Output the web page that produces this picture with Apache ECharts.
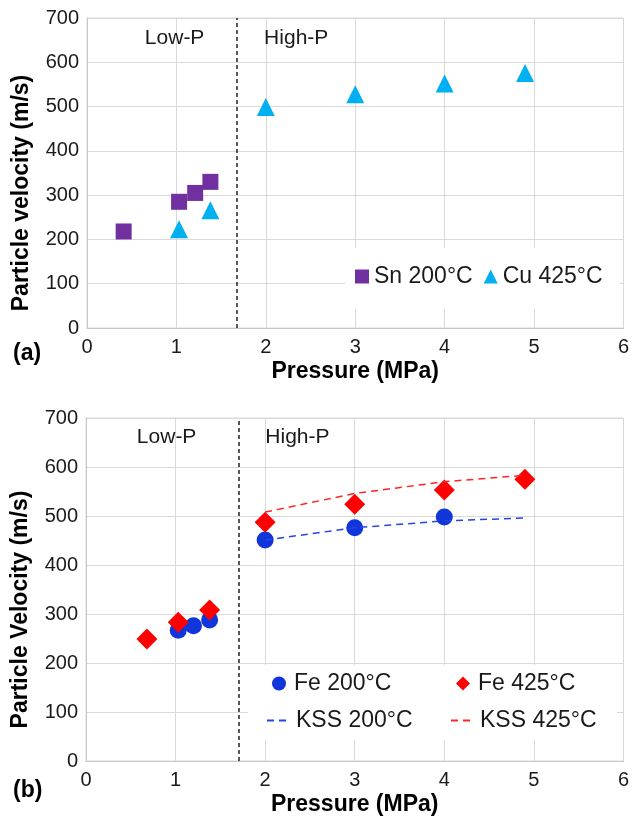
<!DOCTYPE html>
<html style="height: 100%">

<head>
	<meta charset="utf-8">
</head>

<body style="height: 100%; margin: 0; background: #fff">
	<div id="container" style="width: 632px; height: 819px;"></div>

	<script type="text/javascript" src="https://cdn.jsdelivr.net/npm/echarts@6/dist/echarts.min.js"></script>
	<script type="text/javascript">
		// panel (a)
		let snX = [0.41, 1.03, 1.21, 1.38];
		let snY = [218, 285, 305, 330];
		let cuX = [1.03, 1.38, 2.0, 3.0, 4.0, 4.9];
		let cuY = [223, 266, 499, 528, 552, 576];

		// panel (b)
		let fe200X = [1.03, 1.2, 1.38, 2, 3, 4];
		let fe200Y = [267, 276, 288, 451, 476, 498];
		let fe425X = [0.68, 1.03, 1.38, 2, 3, 4, 4.9];
		let fe425Y = [249, 283, 308, 487, 524, 553, 575];
		let kssX = [2, 3, 4, 4.9];
		let kss200Y = [451, 476, 490, 496];
		let kss425Y = [508, 546, 570, 583];

		let boundaryA = 1.67;
		let boundaryB = 1.70;

		function pairs(xs, ys) {
			return xs.map(function (x, i) { return [x, ys[i]]; });
		}

		let font = '"Liberation Sans", Arial, sans-serif';
		let gridColor = '#d9d9d9';
		let textColor = '#1a1a1a';

		function xAxisOf(gridIndex) {
			return {
				type: 'value',
				gridIndex: gridIndex,
				min: 0,
				max: 6,
				interval: 1,
				name: 'Pressure (MPa)',
				nameLocation: 'middle',
				nameGap: 32,
				nameTextStyle: { fontFamily: font, fontSize: 23, fontWeight: 'bold', color: '#000' },
				axisLine: { lineStyle: { color: '#c8c8c8' } },
				axisTick: { show: false },
				axisLabel: { fontFamily: font, fontSize: 20, color: textColor, margin: 9 },
				splitLine: { lineStyle: { color: gridColor } }
			};
		}

		function yAxisOf(gridIndex, name) {
			return {
				type: 'value',
				gridIndex: gridIndex,
				min: 0,
				max: 700,
				interval: 100,
				name: name,
				nameLocation: 'middle',
				nameGap: 54,
				nameTextStyle: { fontFamily: font, fontSize: 23, fontWeight: 'bold', color: '#000', padding: [0, 40, 0, 0] },
				axisLine: { show: true, lineStyle: { color: '#c8c8c8' } },
				axisTick: { show: false },
				axisLabel: { fontFamily: font, fontSize: 20, color: textColor, margin: 8 },
				splitLine: { lineStyle: { color: gridColor } }
			};
		}

		function regionMarks(lowX, highX, y) {
			return {
				symbol: 'circle',
				symbolSize: 1,
				itemStyle: { color: 'rgba(0,0,0,0)' },
				label: { show: true, position: 'inside', fontFamily: font, fontSize: 21, color: textColor },
				data: [
					{ coord: [lowX, y], label: { formatter: 'Low-P' } },
					{ coord: [highX, y], label: { formatter: 'High-P' } }
				]
			};
		}

		function boundary(x) {
			return {
				silent: true,
				symbol: 'none',
				label: { show: false },
				lineStyle: { color: '#222', type: [4, 3], width: 1.5 },
				data: [{ xAxis: x }]
			};
		}

		let legendText = { fontFamily: font, fontSize: 23, color: textColor, padding: [0, 0, 0, 3] };

		function legendItem(item, left, top, width) {
			return {
				data: [item],
				left: left,
				top: top,
				padding: 0,
				itemWidth: width,
				itemHeight: 14,
				textStyle: legendText
			};
		}

		let dom = document.getElementById("container");
		let myChart = echarts.init(dom, null, { renderer: 'canvas' });

		let option = {
			backgroundColor: '#fff',
			animation: false,
			grid: [
				{ left: 87, right: 6, top: 18, height: 310, show: true, borderColor: gridColor, borderWidth: 1 },
				{ left: 86, right: 8, top: 418, height: 343, show: true, borderColor: gridColor, borderWidth: 1 }
			],
			xAxis: [xAxisOf(0), xAxisOf(1)],
			yAxis: [yAxisOf(0, 'Particle velocity (m/s)'), yAxisOf(1, 'Particle Velocity (m/s)')],
			graphic: [
				{ type: 'rect', z: 3, shape: { x: 345, y: 248, width: 275, height: 61 }, style: { fill: '#fff' } },
				{ type: 'rect', z: 3, shape: { x: 248, y: 665, width: 369, height: 75 }, style: { fill: '#fff' } },
				{ type: 'text', left: 13, top: 342, style: { text: '(a)', font: 'bold 23px ' + font, fill: '#000' } },
				{ type: 'text', left: 13, top: 779, style: { text: '(b)', font: 'bold 23px ' + font, fill: '#000' } }
			],
			legend: [
				{
					data: ['Sn 200°C', 'Cu 425°C'],
					left: 355,
					top: 265,
					padding: 0,
					itemWidth: 14,
					itemHeight: 14,
					itemGap: 11,
					textStyle: { fontFamily: font, fontSize: 23, color: textColor }
				},
				legendItem('Fe 200°C', 272, 672, 14),
				legendItem('Fe 425°C', 456, 672, 14),
				legendItem({ name: 'KSS 200°C', itemStyle: { opacity: 0 } }, 266, 709, 21),
				legendItem({ name: 'KSS 425°C', itemStyle: { opacity: 0 } }, 450, 709, 21)
			],
			series: [
				{
					name: 'Sn 200°C',
					type: 'scatter',
					xAxisIndex: 0,
					yAxisIndex: 0,
					symbol: 'rect',
					symbolSize: 16,
					itemStyle: { color: '#7030A0', opacity: 1 },
					data: pairs(snX, snY),
					markLine: boundary(boundaryA),
					markPoint: regionMarks(0.98, 2.34, 655)
				},
				{
					name: 'Cu 425°C',
					type: 'scatter',
					xAxisIndex: 0,
					yAxisIndex: 0,
					symbol: 'triangle',
					symbolSize: 18,
					itemStyle: { color: '#00B0F0', opacity: 1 },
					data: pairs(cuX, cuY)
				},
				{
					name: 'KSS 200°C',
					type: 'line',
					xAxisIndex: 1,
					yAxisIndex: 1,
					symbol: 'none',
					lineStyle: { color: '#2646E0', width: 1.5, type: [7, 5] },
					itemStyle: { color: '#2646E0' },
					data: pairs(kssX, kss200Y),
					markLine: boundary(boundaryB),
					markPoint: regionMarks(0.9, 2.36, 661)
				},
				{
					name: 'KSS 425°C',
					type: 'line',
					xAxisIndex: 1,
					yAxisIndex: 1,
					symbol: 'none',
					lineStyle: { color: '#FF2424', width: 1.5, type: [7, 5] },
					itemStyle: { color: '#FF2424' },
					data: pairs(kssX, kss425Y)
				},
				{
					name: 'Fe 200°C',
					type: 'scatter',
					xAxisIndex: 1,
					yAxisIndex: 1,
					symbol: 'circle',
					symbolSize: 17,
					itemStyle: { color: '#1035DA', opacity: 1 },
					data: pairs(fe200X, fe200Y)
				},
				{
					name: 'Fe 425°C',
					type: 'scatter',
					xAxisIndex: 1,
					yAxisIndex: 1,
					symbol: 'diamond',
					symbolSize: 21,
					itemStyle: { color: '#FF0000', opacity: 1 },
					data: pairs(fe425X, fe425Y)
				}
			]
		};

		myChart.setOption(option, true);
	</script>
</body>

</html>
